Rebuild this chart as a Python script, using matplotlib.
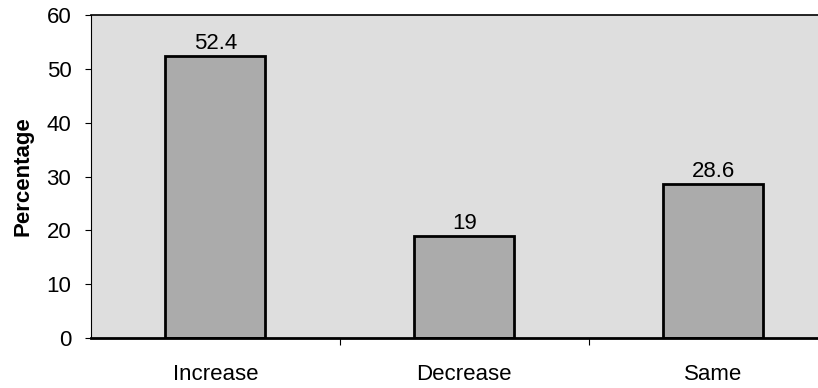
import matplotlib.pyplot as plt

categories = ['Increase', 'Decrease', 'Same']
percentages = [52.4, 19, 28.6]
value_labels = ['52.4', '19', '28.6']

plt.rcParams['font.family'] = ['Liberation Sans', 'DejaVu Sans']

fig = plt.figure(figsize=(8.18, 3.88), dpi=100)
ax = fig.add_axes([0.111, 0.129, 0.913, 0.832])
ax.set_facecolor('#dedede')

x = range(len(categories))
bars = ax.bar(x, percentages, width=0.4, color='#ababab', edgecolor='black', linewidth=2)

for xi, val, lab in zip(x, percentages, value_labels):
    ax.annotate(lab, (xi, val), xytext=(0, 1.5), textcoords='offset points',
                ha='center', va='bottom', fontsize=16)

ax.set_xlim(-0.5, 2.5)
ax.set_ylim(0, 60)
ax.set_yticks([0, 10, 20, 30, 40, 50, 60])
ax.tick_params(axis='y', labelsize=16, length=4, width=0.8, pad=10)

# category labels without ticks, ticks between categories
ax.set_xticks([0.5, 1.5])
ax.set_xticklabels([])
ax.set_xticks(list(x), minor=True)
ax.set_xticklabels(categories, minor=True, fontsize=16)
ax.tick_params(axis='x', which='minor', length=0, pad=19)
ax.tick_params(axis='x', which='major', length=5, width=0.8)

ax.set_ylabel('Percentage', fontsize=16, fontweight='bold', labelpad=9)

ax.spines['bottom'].set_linewidth(2)
ax.spines['left'].set_linewidth(0.8)
ax.spines['top'].set_linewidth(1.2)
ax.spines['right'].set_visible(False)

plt.savefig('out.png')
